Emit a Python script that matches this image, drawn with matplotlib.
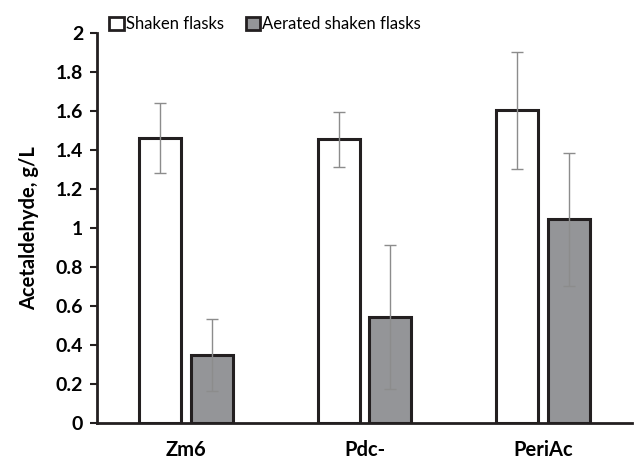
import numpy as np
import matplotlib
matplotlib.use('Agg')
import matplotlib.pyplot as plt
from matplotlib.patches import Patch

plt.rcParams['font.family'] = ['Lato', 'DejaVu Sans']

strains = ['Zm6', 'Pdc-', 'PeriAc']
shaken = [1.46, 1.455, 1.605]
shaken_err = [0.18, 0.14, 0.30]
aerated = [0.35, 0.545, 1.045]
aerated_err = [0.185, 0.37, 0.34]
yticks = [0, 0.2, 0.4, 0.6, 0.8, 1, 1.2, 1.4, 1.6, 1.8, 2]
ytick_labels = ['0', '0.2', '0.4', '0.6', '0.8', '1', '1.2', '1.4', '1.6', '1.8', '2']

fig = plt.figure(figsize=(6.36, 4.65), dpi=100)
ax = fig.add_axes([0.1525, 0.0903, 0.8415, 0.8387])

x = np.arange(len(strains))
w = 0.235
err_kw = dict(ecolor='#8c8c8c', elinewidth=1.0, capsize=4, capthick=1.0)
ax.bar(x - 0.145, shaken, w, yerr=shaken_err, color='white', edgecolor='#231f20',
       linewidth=2.2, error_kw=err_kw, zorder=2)
ax.bar(x + 0.145, aerated, w, yerr=aerated_err, color='#949598', edgecolor='#231f20',
       linewidth=2.2, error_kw=err_kw, zorder=2)

ax.set_xlim(-0.5, 2.5)
ax.set_ylim(0, 2)
ax.set_xticks(x)
ax.set_xticklabels(strains, fontsize=14.5, fontweight='bold')
ax.set_yticks(yticks)
ax.set_yticklabels(ytick_labels, fontsize=14, fontweight='bold')
ax.tick_params(axis='x', length=0, pad=12)
ax.tick_params(axis='y', length=5, width=1.5, direction='out', pad=5, color='#231f20')
ax.set_ylabel('Acetaldehyde, g/L', fontsize=14.5, fontweight='bold', labelpad=12)

for s in ['top', 'right']:
    ax.spines[s].set_visible(False)
for s in ['left', 'bottom']:
    ax.spines[s].set_linewidth(2)
    ax.spines[s].set_color('#231f20')

handles = [Patch(facecolor='white', edgecolor='#231f20', linewidth=2),
           Patch(facecolor='#949598', edgecolor='#231f20', linewidth=2)]
fig.legend(handles, ['Shaken flasks', 'Aerated shaken flasks'], ncol=2,
           loc='center', bbox_to_anchor=(0.417, 0.948), frameon=False,
           fontsize=12, handlelength=0.85, handleheight=0.85,
           handletextpad=0.15, columnspacing=1.3)

plt.savefig('out.png', dpi=100)
